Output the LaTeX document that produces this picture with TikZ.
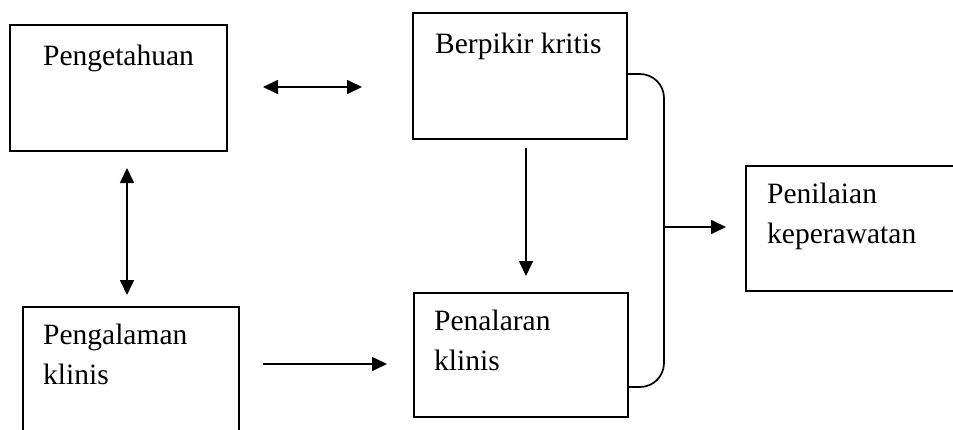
\documentclass[tikz,border=0pt]{standalone}
\usepackage{fontspec}
\setmainfont{Liberation Serif}
\usetikzlibrary{arrows.meta}
\begin{document}
\begin{tikzpicture}[x=1pt,y=-1pt,
  box/.style={draw, line width=1.9pt, inner sep=0pt},
  lbl/.style={font=\fontsize{29.5}{40}\selectfont, inner sep=0pt, anchor=base west, align=left},
  conn/.style={line width=1.7pt, -{Triangle[length=15pt,width=14pt]}},
  dconn/.style={line width=1.7pt, {Triangle[length=15pt,width=14pt]}-{Triangle[length=15pt,width=14pt]}}
]
\useasboundingbox (0,0) rectangle (953,429);
\clip (0,0) rectangle (953,429);
\fill[white] (0,0) rectangle (953,429);
% boxes
\node[box, minimum width=217pt, minimum height=126pt] (know) at (118.5,88) {};
\node[box, minimum width=214pt, minimum height=126pt] (crit) at (520,76) {};
\node[box, minimum width=220pt, minimum height=125pt] (judg) at (856,228.5) {};
\node[box, minimum width=216pt, minimum height=140pt] (exp) at (131,377) {};
\node[box, minimum width=214pt, minimum height=124pt] (reas) at (521,355) {};
% labels (base anchor = last line baseline)
\node[lbl] (knowT) at (43,65) {Pengetahuan};
\node[lbl] (critT) at (435,53) {Berpikir kritis};
\node[lbl] (judgT) at (767,243) {Penilaian\\keperawatan};
\node[lbl] (expT) at (43,384) {Pengalaman\\klinis};
\node[lbl] (reasT) at (434,370) {Penalaran\\klinis};
% connector coordinates
\coordinate (a1) at (263,87);
\coordinate (a2) at (362,87);
\coordinate (b1) at (127,168);
\coordinate (b2) at (127,295);
\coordinate (c1) at (526,148);
\coordinate (c2) at (526,276);
\coordinate (d1) at (263,364);
\coordinate (d2) at (387,364);
\coordinate (e1) at (664,227);
\coordinate (e2) at (726,227);
% connectors
\draw[dconn] (a1) -- (a2);
\draw[dconn] (b1) -- (b2);
\draw[conn] (c1) -- (c2);
\draw[conn] (d1) -- (d2);
\draw[line width=1.7pt, rounded corners=24pt] (crit.east |- 0,74) -- (664,74) -- (664,387) -- (reas.east |- 0,387);
\draw[conn] (e1) -- (e2);
\end{tikzpicture}
\end{document}
